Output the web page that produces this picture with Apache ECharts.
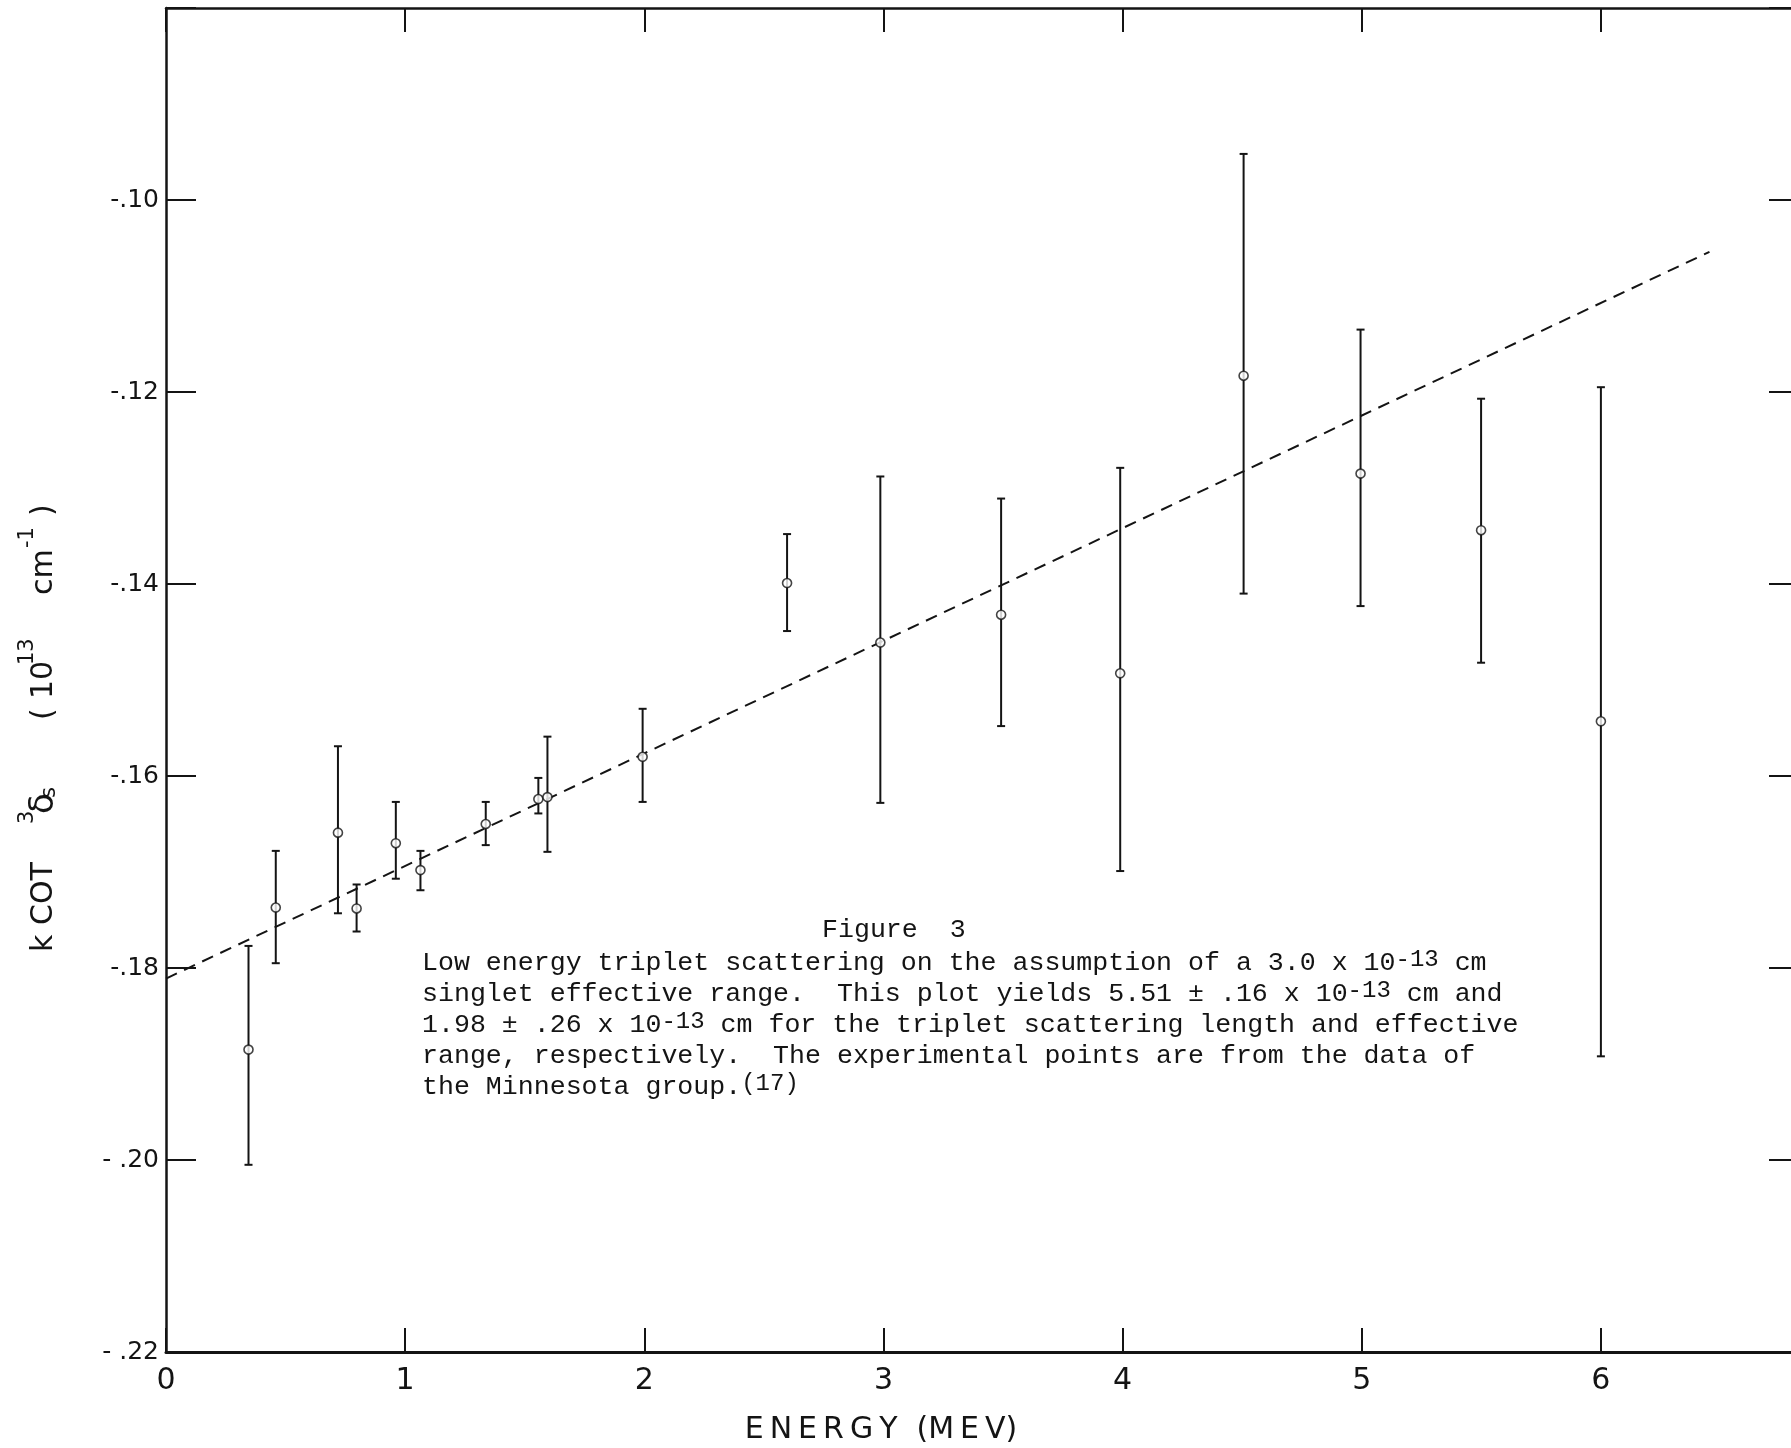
<!DOCTYPE html>
<html>
<head>
<meta charset="utf-8">
<title>Figure 3 - triplet scattering</title>
<script src="https://cdn.jsdelivr.net/npm/echarts@6/dist/echarts.min.js"></script>
<style>
  html, body { margin: 0; padding: 0; background: #fff; overflow: hidden; }
  #chart { width: 1800px; height: 1448px; }
</style>
</head>
<body>
<div id="chart"></div>
<script>
// energy (MeV) and k cot 3delta_s (10^13 cm^-1)
const energy = [0.345, 0.459, 0.719, 0.797, 0.961, 1.064, 1.337, 1.557, 1.595, 1.993, 2.597, 2.987, 3.492, 3.990, 4.506, 4.995, 5.499, 6.0]
const kcot = [-0.1885, -0.1737, -0.1659, -0.1738, -0.1670, -0.1698, -0.1650, -0.1624, -0.1622, -0.1580, -0.1399, -0.1461, -0.1432, -0.1493, -0.1183, -0.1285, -0.1344, -0.1543]
const errHigh = [-0.1777, -0.1678, -0.1569, -0.1713, -0.1627, -0.1678, -0.1627, -0.1602, -0.1559, -0.1530, -0.1348, -0.1288, -0.1311, -0.1279, -0.0952, -0.1135, -0.1207, -0.1195]
const errLow = [-0.2005, -0.1795, -0.1743, -0.1762, -0.1707, -0.1719, -0.1672, -0.1639, -0.1679, -0.1627, -0.1449, -0.1628, -0.1548, -0.1699, -0.1410, -0.1423, -0.1482, -0.1892]

// dashed fit line end points
const fitX = [0, 6.454]
const fitY = [-0.1811, -0.1054]

const xTickValues = [0, 1, 2, 3, 4, 5, 6]
const xTickLabels = ['0', '1', '2', '3', '4', '5', '6']
const yTickValues = [-0.22, -0.20, -0.18, -0.16, -0.14, -0.12, -0.10]
const yTickLabels = ['- .22', '- .20', '-.18', '-.16', '-.14', '-.12', '-.10']

const ink = '#141414'
const xMax = 6.82

function pickLabel(values, labels, v) {
  const i = values.findIndex((t) => Math.abs(t - v) < 1e-9)
  return i < 0 ? '' : labels[i]
}

const chart = echarts.init(document.getElementById('chart'), null, { renderer: 'canvas' })

const xAxisBase = {
  type: 'value',
  min: 0,
  max: xMax,
  interval: 1,
  splitLine: { show: false },
  axisLine: { onZero: false, lineStyle: { color: ink, width: 2.5 } }
}
const yAxisBase = {
  type: 'value',
  min: -0.22,
  max: -0.08,
  interval: 0.02,
  splitLine: { show: false },
  axisLine: { onZero: false, lineStyle: { color: ink, width: 2.5 } }
}

// pieces of the y axis title; width = room given to each piece along the text
const titleFont = { fontFamily: 'DejaVu Sans', align: 'left' }
const yTitleRich = {
  k: { ...titleFont, fontSize: 30, lineHeight: 54, width: 27 },
  cot: { ...titleFont, fontSize: 30, lineHeight: 54, width: 101 },
  sup3: { ...titleFont, fontSize: 21, lineHeight: 10, verticalAlign: 'top', width: 10 },
  d: { ...titleFont, fontSize: 34, lineHeight: 54, width: 16 },
  sub: { ...titleFont, fontSize: 21, verticalAlign: 'middle', padding: [12, 0, 0, 0], width: 78 },
  p: { ...titleFont, fontSize: 30, lineHeight: 54, width: 21 },
  ten: { ...titleFont, fontSize: 30, lineHeight: 54, width: 34 },
  sup13: { ...titleFont, fontSize: 21, lineHeight: 10, verticalAlign: 'top', width: 70 },
  cm: { ...titleFont, fontSize: 30, lineHeight: 54, width: 47 },
  supm: { ...titleFont, fontSize: 21, lineHeight: 10, verticalAlign: 'top', width: 32 },
  q: { ...titleFont, fontSize: 30, lineHeight: 54, width: 22 }
}

chart.setOption({
  animation: false,
  backgroundColor: '#fff',
  grid: { left: 166, right: 0, top: 8, bottom: 96 },
  xAxis: [
    {
      ...xAxisBase,
      position: 'bottom',
      axisLine: { onZero: false, lineStyle: { color: ink, width: 3 } },
      axisTick: { inside: true, length: 24, lineStyle: { color: ink, width: 2 } },
      axisLabel: {
        margin: 14,
        color: ink,
        fontFamily: 'DejaVu Sans',
        fontSize: 30,
        formatter: (v) => pickLabel(xTickValues, xTickLabels, v)
      }
    },
    {
      ...xAxisBase,
      position: 'top',
      axisTick: { inside: true, length: 24, lineStyle: { color: ink, width: 2 } },
      axisLabel: { show: false }
    }
  ],
  yAxis: [
    {
      ...yAxisBase,
      position: 'left',
      axisTick: { inside: true, length: 30, lineStyle: { color: ink, width: 2 } },
      axisLabel: {
        margin: 7,
        color: ink,
        fontFamily: 'DejaVu Sans',
        fontSize: 25,
        formatter: (v) => pickLabel(yTickValues, yTickLabels, v)
      }
    },
    {
      ...yAxisBase,
      position: 'right',
      axisTick: { inside: true, length: 28, lineStyle: { color: ink, width: 2 } },
      axisLabel: { show: false }
    }
  ],
  series: [
    {
      name: 'fit',
      type: 'line',
      data: fitX.map((x, i) => [x, fitY[i]]),
      showSymbol: false,
      symbol: 'none',
      lineStyle: { color: ink, width: 2, type: [12, 8] },
      z: 2
    },
    {
      name: 'errors',
      type: 'custom',
      data: energy.map((x, i) => [x, errHigh[i], errLow[i]]),
      encode: { x: 0, y: [1, 2] },
      renderItem: (params, api) => {
        const x = api.value(0)
        const top = api.coord([x, api.value(1)])
        const bot = api.coord([x, api.value(2)])
        const half = 4
        const style = { stroke: ink, lineWidth: 2 }
        return {
          type: 'group',
          children: [
            { type: 'line', shape: { x1: top[0], y1: top[1], x2: bot[0], y2: bot[1] }, style },
            { type: 'line', shape: { x1: top[0] - half, y1: top[1], x2: top[0] + half, y2: top[1] }, style },
            { type: 'line', shape: { x1: bot[0] - half, y1: bot[1], x2: bot[0] + half, y2: bot[1] }, style }
          ]
        }
      },
      z: 3
    },
    {
      name: 'points',
      type: 'scatter',
      data: energy.map((x, i) => [x, kcot[i]]),
      symbol: 'circle',
      symbolSize: 9,
      itemStyle: { color: '#fff', borderColor: ink, borderWidth: 1.6 },
      z: 4
    }
  ],
  graphic: [
    {
      type: 'text',
      x: 44,
      y: 723,
      rotation: Math.PI / 2,
      style: {
        text: '{k|k}{cot|COT}{sup3|3}{d|δ}{sub|s}{p|(}{ten|10}{sup13|13}{cm|cm}{supm|-1}{q|)}',
        fill: ink,
        font: '30px "DejaVu Sans"',
        align: 'center',
        verticalAlign: 'middle',
        rich: yTitleRich
      }
    },
    {
      type: 'text',
      x: 881,
      y: 1430,
      style: {
        text: 'E\u2009N\u2009E\u2009R\u2009G\u2009Y  (M\u2009E\u2009V)',
        fill: ink,
        font: '30px "DejaVu Sans"',
        align: 'center',
        verticalAlign: 'middle'
      }
    },
    {
      type: 'text',
      x: 822,
      y: 930,
      style: {
        text: 'Figure  3',
        fill: ink,
        font: '26.6px "Liberation Mono"',
        align: 'left',
        verticalAlign: 'middle'
      }
    },
    {
      type: 'text',
      x: 422,
      y: 948,
      style: {
        text: [
          'Low energy triplet scattering on the assumption of a 3.0 x 10{s|-13} cm',
          'singlet effective range.  This plot yields 5.51 ± .16 x 10{s|-13} cm and',
          '1.98 ± .26 x 10{s|-13} cm for the triplet scattering length and effective',
          'range, respectively.  The experimental points are from the data of',
          'the Minnesota group.{s|(17)}'
        ].join('\n'),
        fill: ink,
        font: '26.6px "Liberation Mono"',
        lineHeight: 30.8,
        align: 'left',
        verticalAlign: 'top',
        rich: {
          s: { fontFamily: 'Liberation Mono', fontSize: 24, lineHeight: 10, verticalAlign: 'top', fill: ink }
        }
      }
    }
  ]
})
</script>
</body>
</html>
